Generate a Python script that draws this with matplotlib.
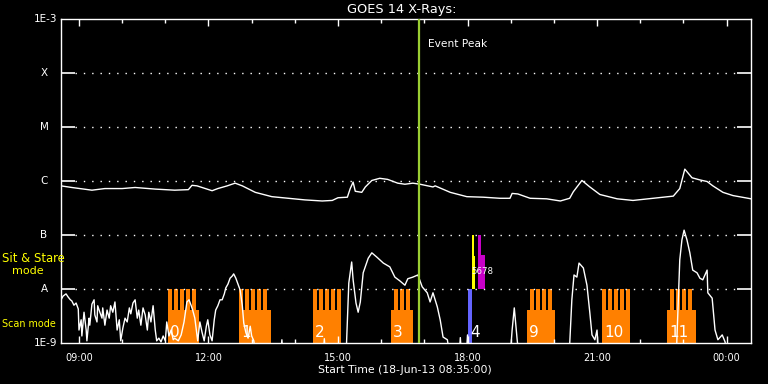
import matplotlib
matplotlib.use("Agg")
import matplotlib.pyplot as plt
import matplotlib.transforms as mtransforms
from matplotlib.ticker import MultipleLocator, NullLocator
import numpy as np

START_HOUR = 8 + 35 / 60.0   # 08:35:00
END_MIN = 959

# GOES 1-8 A channel: minutes after start, log10 flux
long_min = [0, 15, 43, 61, 85, 103, 131, 158, 177, 182, 189, 210, 218, 231, 242, 252,
            270, 293, 316, 339, 363, 377, 385, 398, 402, 406, 409, 418, 423, 432, 443,
            454, 468, 478, 489, 499, 517, 520, 541, 564, 587, 610, 624, 627, 635, 652,
            675, 694, 707, 712, 724, 735, 749, 773, 795, 823, 851, 860, 867, 877, 888,
            898, 906, 920, 934, 955, 959]
long_log = [-6.09, -6.12, -6.17, -6.14, -6.14, -6.12, -6.15, -6.17, -6.16, -6.08, -6.09,
            -6.18, -6.14, -6.09, -6.04, -6.09, -6.21, -6.29, -6.32, -6.35, -6.37, -6.36,
            -6.31, -6.30, -6.14, -6.02, -6.19, -6.21, -6.11, -5.99, -5.95, -5.97, -6.04,
            -6.06, -6.04, -6.06, -6.11, -6.09, -6.21, -6.29, -6.30, -6.32, -6.32, -6.23,
            -6.24, -6.32, -6.33, -6.37, -6.32, -6.20, -5.99, -6.11, -6.25, -6.33, -6.36,
            -6.32, -6.28, -6.14, -5.78, -5.94, -5.98, -6.01, -6.09, -6.21, -6.27, -6.32,
            -6.33]

# GOES 0.5-4 A channel (values under -9 fall below the axis)
short_min = [0, 3, 7, 10, 13, 15, 18, 21, 24, 25, 28, 29, 32, 35, 36, 39, 40, 43, 46, 47,
             50, 51, 54, 57, 58, 61, 64, 67, 69, 72, 75, 78, 81, 83, 86, 89, 92, 95, 97,
             100, 103, 106, 108, 111, 114, 117, 120, 122, 125, 128, 131, 133, 136, 139,
             142, 145, 147, 150, 153, 156, 158, 163, 167, 171, 175, 178, 181, 183, 186,
             189, 190, 193, 196, 199, 202, 204, 207, 210, 213, 215, 218, 221, 224, 227,
             229, 232, 235, 238, 240, 243, 246, 249, 252, 254, 257, 260, 263, 265, 268,
             271,
             305, 307, 309, 364, 366, 368, 396, 400, 404, 406, 410, 413, 416, 420, 427,
             432, 439, 448, 457, 464, 471, 478, 482, 489, 496, 502, 509, 513, 517, 523,
             527, 531, 537, 541, 553, 555, 557, 563, 565, 567, 624, 627, 630, 634, 637,
             706, 710, 713, 717, 720, 726, 731, 735, 738, 742, 745, 746, 749, 855, 860,
             863, 866, 870, 874, 878, 884, 888, 892, 898, 899, 905, 909, 913, 919, 923,
             926, 959]
short_log = [-8.20, -8.13, -8.09, -8.15, -8.20, -8.22, -8.30, -8.26, -8.37, -8.76, -8.57,
             -8.87, -8.43, -8.76, -8.96, -8.54, -8.67, -8.28, -8.20, -8.48, -8.61, -8.31,
             -8.43, -8.54, -8.35, -8.67, -8.39, -8.54, -8.31, -8.43, -8.24, -8.76, -8.57,
             -8.96, -8.72, -8.54, -8.61, -8.35, -8.46, -8.26, -8.20, -8.54, -8.39, -8.67,
             -8.35, -8.48, -8.76, -8.43, -8.61, -8.31, -8.76, -8.96, -8.91, -8.98, -8.87,
             -8.96, -8.61, -8.87, -8.76, -8.94, -8.91, -8.96, -8.85, -8.61, -8.24, -8.20,
             -8.31, -8.39, -8.54, -8.85, -8.96, -8.61, -8.80, -8.96, -8.69, -8.57, -8.85,
             -8.96, -8.57, -8.39, -8.31, -8.20, -8.20, -8.09, -7.98, -7.91, -7.80, -7.76,
             -7.72, -7.80, -7.91, -8.02, -8.31, -8.63, -8.81, -8.91, -8.69, -8.87, -8.96,
             -9.3,
             -9.3, -8.94, -9.3, -9.3, -8.92, -9.3, -9.3, -7.89, -7.50, -7.83, -8.26, -8.43,
             -8.24, -7.70, -7.43, -7.33, -7.41, -7.52, -7.59, -7.78, -7.85, -7.93, -7.81,
             -7.78, -7.74, -7.96, -8.07, -8.24, -8.07, -8.33, -8.57, -8.89, -8.94, -9.3,
             -9.3, -8.90, -9.3, -9.3, -8.85, -9.3, -9.3, -8.76, -8.35, -8.94, -9.3,
             -9.3, -8.20, -7.74, -7.78, -7.52, -7.61, -7.93, -8.44, -8.85, -8.94, -8.76,
             -8.98, -9.3, -9.3, -7.46, -7.09, -6.91, -7.09, -7.33, -7.65, -7.70, -7.80,
             -7.83, -7.65, -8.07, -8.17, -8.76, -8.94, -8.85, -8.98, -9.3, -9.3]

# IRIS raster groups (scan mode)
group_labels = ["0", "1", "2", "3", "9", "10", "11"]
group_start = [148.7, 247.4, 349.8, 458.7, 647.7, 751.9, 842.3]
group_end = [191.8, 291.9, 388.8, 489.2, 686.6, 790.9, 882.6]
teeth_start = [148.7, 247.4, 349.8, 462.8, 651.9, 751.9, 846.5]
teeth_count = [5, 5, 5, 3, 4, 5, 4]
tooth_period = 8.34
tooth_width = 5.56
scan_top = 1e-8
scan_base = 4.1e-9

# sit & stare observations: start, end (minutes), bottom, top flux
stare_start = [565.3, 571.1, 571.1, 579.1, 579.1]
stare_end = [570.9, 573.9, 575.8, 583.7, 589.3]
stare_bottom = [1e-9, 1e-8, 1e-8, 1e-8, 1e-8]
stare_top = [1e-8, 1e-7, 4.1e-8, 1e-7, 4.2e-8]
stare_colors = ["#6464ff", "#ffff00", "#ffff00", "#c800c8", "#c800c8"]
stare_label = "4"
sit_label = "5678"
sit_label_min = 571

event_peak_min = 497.6

level_values = [1e-8, 1e-7, 1e-6, 1e-5, 1e-4]
level_names = ["A", "B", "C", "M", "X"]
hour_ticks = [9, 12, 15, 18, 21, 24]
hour_labels = ["09:00", "12:00", "15:00", "18:00", "21:00", "00:00"]


def hours(m):
    return START_HOUR + np.asarray(m, dtype=float) / 60.0


plt.rcParams['font.family'] = ['DejaVu Sans']
fig = plt.figure(figsize=(7.68, 3.84), dpi=100, facecolor="black")
ax = fig.add_axes([61 / 768, 41 / 384, 690 / 768, 324 / 384], facecolor="black")

# scan-mode rasters
for i in range(len(group_labels)):
    ax.bar(hours(group_start[i]), scan_base - 1e-10, width=(group_end[i] - group_start[i]) / 60.0,
           bottom=1e-10, align="edge", color="#ff8000", linewidth=0, zorder=1)
    for k in range(teeth_count[i]):
        t0 = teeth_start[i] + k * tooth_period
        ax.bar(hours(t0), scan_top - 1e-10, width=tooth_width / 60.0, bottom=1e-10,
               align="edge", color="#ff8000", linewidth=0, zorder=1)
    ax.annotate(group_labels[i], (hours(group_start[i]), 1e-9), xytext=(1.5, 2.5),
                textcoords="offset points", color="white", fontsize=11, ha="left",
                va="bottom", zorder=5)

# sit & stare
for s, e, b, t, c in zip(stare_start, stare_end, stare_bottom, stare_top, stare_colors):
    ax.bar(hours(s), t - b, width=(e - s) / 60.0, bottom=b, align="edge", color=c,
           linewidth=0, zorder=1)
ax.annotate(stare_label, (hours(stare_start[0]), 1e-9), xytext=(1.5, 2.5),
            textcoords="offset points", color="white", fontsize=11, ha="left", va="bottom",
            zorder=5)
ax.text(hours(sit_label_min), 2.1e-8, sit_label, color="white", fontsize=6.2,
        ha="left", va="center", zorder=5)

# GOES curves
ax.plot(hours(long_min), 10.0 ** np.array(long_log), color="white", linewidth=1, zorder=3)
ax.plot(hours(short_min), 10.0 ** np.array(short_log), color="white", linewidth=1, zorder=3)

# event peak
ax.axvline(hours(event_peak_min), color="#9acd32", linewidth=1.6, zorder=4)
ax.annotate("Event Peak", (hours(event_peak_min), 1e-3), xytext=(6.5, -18),
            textcoords="offset points", color="white", fontsize=7.7, va="center", ha="left")

ax.set_yscale("log")
ax.set_ylim(1e-9, 1e-3)
ax.set_xlim(START_HOUR, hours(END_MIN))

# dotted level lines
for v in level_values:
    ax.axhline(v, xmin=0.02, xmax=0.98, color="white", linestyle=(0, (1, 5)), linewidth=1,
               zorder=2)

ax.set_yticks(level_values)
ax.yaxis.set_minor_locator(NullLocator())
ax.set_yticklabels([])
ax.tick_params(axis="y", which="major", direction="in", length=10, width=1.2,
               color="white", left=True, right=True)
ax.set_xticks(hour_ticks)
ax.set_xticklabels(hour_labels)
ax.xaxis.set_minor_locator(MultipleLocator(1))
ax.tick_params(axis="x", which="major", direction="in", length=5, width=1, color="white",
               top=True, bottom=True, labelcolor="white", labelsize=7, pad=7)
ax.tick_params(axis="x", which="minor", direction="in", length=3, width=1, color="white",
               top=True, bottom=True)
for sp in ax.spines.values():
    sp.set_color("white")
    sp.set_linewidth(1)

# y labels drawn IDL-style
trans = mtransforms.blended_transform_factory(ax.transAxes, ax.transData)
for v, name in zip(level_values, level_names):
    ax.text(-0.0246, v, name, transform=trans, color="white", fontsize=7.5,
            ha="center", va="center")
ax.text(-0.006, 1e-3, "1E-3", transform=trans, color="white", fontsize=7.5, ha="right", va="center")
ax.text(-0.006, 1e-9, "1E-9", transform=trans, color="white", fontsize=7.5, ha="right", va="center")

fig.text(2 / 768, 1 - 258 / 384, "Sit & Stare", color="yellow", fontsize=8.4, ha="left", va="center")
fig.text(12 / 768, 1 - 271 / 384, "mode", color="yellow", fontsize=8, ha="left", va="center")
fig.text(2 / 768, 1 - 324 / 384, "Scan mode", color="yellow", fontsize=6.9, ha="left", va="center")

fig.text(402 / 768, 1 - 9 / 384, "GOES 14 X-Rays:", color="white", fontsize=9.3, ha="center", va="center")
fig.text(405 / 768, 1 - 370 / 384, "Start Time (18-Jun-13 08:35:00)", color="white",
         fontsize=7.8, ha="center", va="center")

fig.savefig("out.png", dpi=100, facecolor="black")
